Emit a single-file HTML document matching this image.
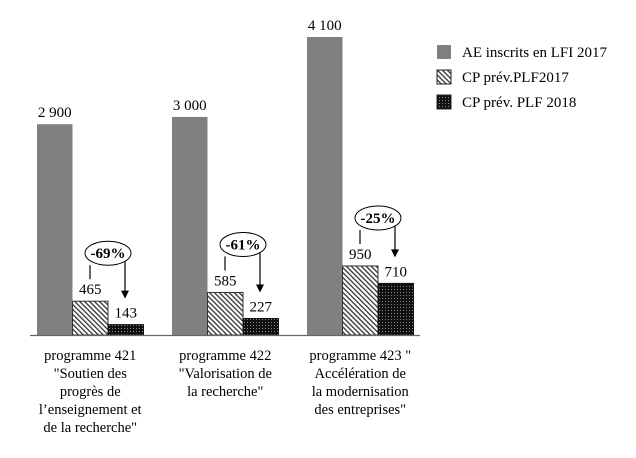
<!DOCTYPE html>
<html><head><meta charset="utf-8"><style>
body{margin:0;background:#fff;}
svg{font-family:"Liberation Serif",serif;}
</style></head><body>
<svg id="c" width="636" height="453">
<defs>
<pattern id="hatch" width="3.5" height="3.5" patternUnits="userSpaceOnUse" patternTransform="rotate(-45)">
<rect width="3.5" height="3.5" fill="#fff"/><rect width="1.3" height="3.5" fill="#333"/></pattern>
<pattern id="dots" width="3" height="3" patternUnits="userSpaceOnUse">
<rect width="3" height="3" fill="#111"/><rect x="1" y="1" width="1" height="1" fill="#888"/></pattern>
</defs>
</svg>
<script>
const categories=[["programme 421","\"Soutien des","progrès de","l’enseignement et","de la recherche\""],["programme 422","\"Valorisation de","la recherche\""],["programme 423 \"","Accélération de","la modernisation","des entreprises\""]];
const aeValues=[2900,3000,4100];
const cp17Values=[465,585,950];
const cp18Values=[143,227,710];
const pctLabels=["-69%","-61%","-25%"];
const seriesNames=["AE inscrits en LFI 2017","CP prév.PLF2017","CP prév. PLF 2018"];
const svg=document.getElementById('c');const NS="http://www.w3.org/2000/svg";
const base=335,scale=298/4100,x0=37,gw=135,bw=35.5;
const y=v=>base-v*scale;
function mk(t,a,p){const e=document.createElementNS(NS,t);for(const k in a)e.setAttribute(k,a[k]);(p||svg).appendChild(e);return e;}
const fills=["#808080","url(#hatch)","url(#dots)"];
const strokes=["none","#333","#111"];
const series=[aeValues,cp17Values,cp18Values];
const fmt=v=>v>=1000?Math.floor(v/1000)+" "+String(v%1000).padStart(3,"0"):String(v);
for(let g=0;g<3;g++){
 for(let s=0;s<3;s++){
  const v=series[s][g],bx=x0+g*gw+s*bw;
  const r=mk('rect',{x:bx,y:y(v),width:bw,height:base-y(v),fill:fills[s],stroke:strokes[s],'stroke-width':1});
  
  
  const t=mk('text',{x:bx+bw/2,y:y(v)-7,'text-anchor':'middle','font-size':15});
  t.textContent=fmt(v);
  
  
 }
 const ht=y(cp17Values[g]),dt=y(cp18Values[g]);
 const cx=x0+g*gw+2*bw,cy=ht-48;
 const gr=mk('g',{});
 
 
 mk('line',{x1:cx-18,y1:cy+12,x2:cx-18,y2:ht-22,stroke:'#000','stroke-width':1.2},gr);
 const ay=dt-26;
 mk('line',{x1:cx+17,y1:cy+2,x2:cx+17,y2:ay-7,stroke:'#000','stroke-width':1.2},gr);
 mk('path',{d:`M${cx+13},${ay-8} L${cx+21},${ay-8} L${cx+17},${ay} Z`,fill:'#000'},gr);
 mk('ellipse',{cx:cx,cy:cy,rx:23,ry:12,fill:'#fff',stroke:'#000','stroke-width':1},gr);
 const pt=mk('text',{x:cx,y:cy+5,'text-anchor':'middle','font-size':15,'font-weight':'bold'},gr);pt.textContent=pctLabels[g];
 categories[g].forEach((l,i)=>{const t=mk('text',{x:x0+g*gw+1.5*bw,y:360+i*18,'text-anchor':'middle','font-size':14.5});t.textContent=l;
  
  });
}
const ax=mk('line',{x1:30,y1:base+0.5,x2:420,y2:base+0.5,stroke:'#666','stroke-width':1.2});


seriesNames.forEach((n,i)=>{
 const g=mk('g',{});
 
 
 mk('rect',{x:437,y:45+i*25,width:14,height:14,fill:fills[i],stroke:i?'#222':'none'},g);
 const t=mk('text',{x:462,y:57+i*25,'font-size':15},g);t.textContent=n;
});
</script>
</body></html>
